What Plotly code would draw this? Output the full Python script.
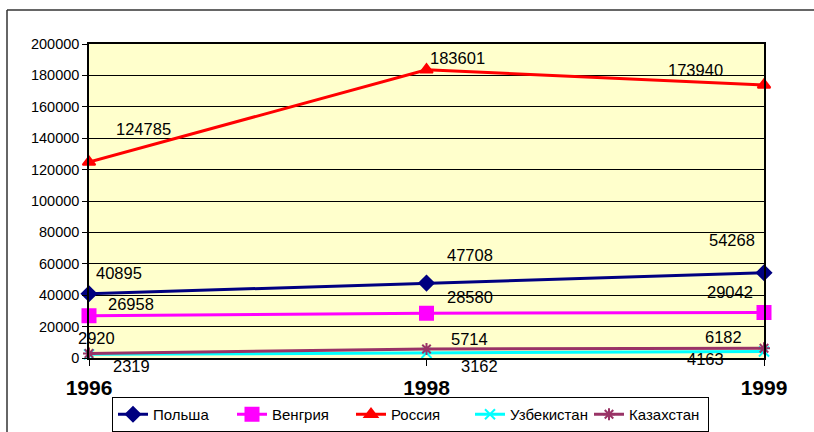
import plotly.graph_objects as go

years = ["1996", "1998", "1999"]
poland = [40895, 47708, 54268]
hungary = [26958, 28580, 29042]
russia = [124785, 183601, 173940]
uzbekistan = [2319, 3162, 4163]
kazakhstan = [2920, 5714, 6182]
y_ticks = [0, 20000, 40000, 60000, 80000, 100000, 120000, 140000, 160000, 180000, 200000]

series = [
    ("Польша", poland, "#000080", "diamond", 11),
    ("Венгрия", hungary, "#FF00FF", "square", 13),
    ("Россия", russia, "#FF0000", "triangle-up", 11),
    ("Узбекистан", uzbekistan, "#00FFFF", "x-thin-open", 10),
    ("Казахстан", kazakhstan, "#993366", "asterisk-open", 10),
]

fig = go.Figure()
for name, vals, col, sym, sz in series:
    fig.add_trace(go.Scatter(
        x=years, y=vals, name=name, mode="lines+markers",
        line=dict(color=col, width=3),
        marker=dict(symbol=sym, size=sz, color=col, line=dict(color=col, width=2)),
        cliponaxis=False,
    ))

# label offsets (pixels) per series per point
offsets = {
    "Польша": [(30, 21), (43, 28), (-32, 33)],
    "Венгрия": [(42, 12), (43, 16), (-34, 20)],
    "Россия": [(54, 33), (31, 12), (-69, 15)],
    "Узбекистан": [(42, -12), (53, -13), (-59, -8)],
    "Казахстан": [(7, 15), (43, 10), (-41, 11)],
}
for name, vals, col, sym, sz in series:
    for i, v in enumerate(vals):
        dx, dy = offsets[name][i]
        fig.add_annotation(
            x=i, y=v, xref="x", yref="y", text=str(v), showarrow=False,
            xshift=dx, yshift=dy,
            font=dict(family="Liberation Sans, Arial", size=16.5, color="black"),
        )

W, H = 814, 432
L, R, T, B = 89, 50, 44, 74
pw, ph = W - L - R, H - T - B

def px(x):
    return (x - L) / pw

def py(y):
    return (H - B - y) / ph

# outer chart frame
fig.add_shape(type="line", xref="paper", yref="paper",
              x0=px(7), x1=px(820), y0=py(10), y1=py(10),
              line=dict(color="#333333", width=1.5))
fig.add_shape(type="line", xref="paper", yref="paper",
              x0=px(7), x1=px(7), y0=py(10), y1=py(440),
              line=dict(color="#333333", width=1.5))

fig.update_layout(
    width=W, height=H,
    margin=dict(l=L, r=R, t=T, b=B, autoexpand=False),
    paper_bgcolor="white",
    plot_bgcolor="#FFFFCC",
    font=dict(family="Liberation Sans, Arial", size=13, color="black"),
    showlegend=True,
    legend=dict(
        orientation="h", x=px(112), y=py(397), xanchor="left", yanchor="top",
        bordercolor="black", borderwidth=1,
        font=dict(family="Liberation Sans Narrow, Arial Narrow, Liberation Sans", size=15),
        entrywidth=74, entrywidthmode="pixels", tracegroupgap=0,
    ),
    xaxis=dict(
        type="category", range=[0, 2], showgrid=False, automargin=False,
        showline=True, linecolor="black", linewidth=1.5, mirror=True,
        ticks="outside", ticklen=6, tickcolor="black",
        tickfont=dict(family="Liberation Sans Narrow, Arial Narrow, Liberation Sans", size=21, color="black", weight="bold"),
        ticklabelstandoff=4,
    ),
    yaxis=dict(
        range=[0, 200000], tickvals=y_ticks, tickformat="d", automargin=False,
        showgrid=True, gridcolor="black", gridwidth=1,
        showline=True, linecolor="black", linewidth=1.5, mirror=True,
        ticks="outside", ticklen=5, tickcolor="black", zeroline=False,
        tickfont=dict(size=14.5),
    ),
)

fig.write_html("out.html", config={"displayModeBar": False},
               post_script="document.body.style.margin='0';document.body.style.overflow='hidden';")
